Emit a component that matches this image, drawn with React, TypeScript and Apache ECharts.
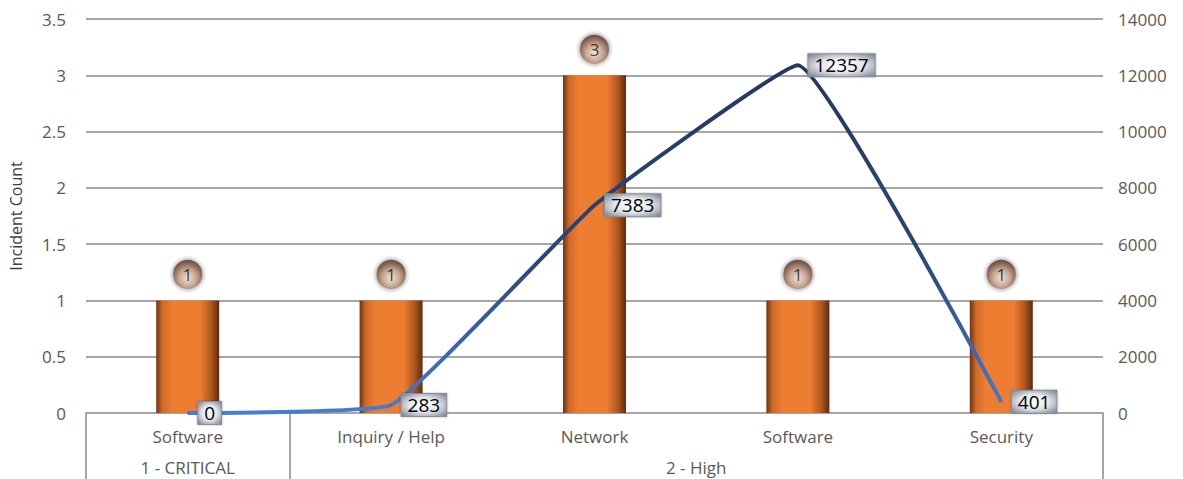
import React, { useEffect, useRef } from "react";
import * as echarts from "echarts";

const categories = ["Software", "Inquiry / Help", "Network", "Software", "Security"];
const groups = ["1 - CRITICAL", "2 - High"];
const groupSpans = [1, 4];
const incidentCounts = [1, 1, 3, 1, 1];
const lineValues = [0, 283, 7383, 12357, 401];
const leftTicks = { min: 0, max: 3.5, interval: 0.5 };
const rightTicks = { min: 0, max: 14000, interval: 2000 };

const FONT = "'Open Sans', Lato, sans-serif";

export default function App() {
  const ref = useRef<HTMLDivElement>(null);
  useEffect(() => {
    document.body.style.margin = "0";
    if (!ref.current) return;
    const chart = echarts.init(ref.current, undefined, { renderer: "svg" });

    const boundaries: number[] = [0];
    const centers: number[] = [];
    let acc = 0;
    groupSpans.forEach((s) => {
      centers.push(acc + s / 2);
      acc += s;
      boundaries.push(acc);
    });

    const barGradient = new echarts.graphic.LinearGradient(0, 0, 1, 0, [
      { offset: 0, color: "#6E3410" },
      { offset: 0.1, color: "#D06A28" },
      { offset: 0.25, color: "#ED7D31" },
      { offset: 0.7, color: "#ED7D31" },
      { offset: 0.87, color: "#B0561E" },
      { offset: 1, color: "#5E2C0C" },
    ]);
    const bubbleGradient = new echarts.graphic.RadialGradient(0.5, 0.62, 0.55, [
      { offset: 0, color: "#F6E4D6" },
      { offset: 0.5, color: "#C59D84" },
      { offset: 0.85, color: "#7A543F" },
      { offset: 1, color: "#5A3A2A" },
    ]);
    const lineGradient = new echarts.graphic.LinearGradient(0, 0, 0, 1, [
      { offset: 0, color: "#24385F" },
      { offset: 0.55, color: "#2B4679" },
      { offset: 1, color: "#4A7BD0" },
    ]);
    const labelBg = new echarts.graphic.RadialGradient(0.5, 0.5, 0.75, [
      { offset: 0, color: "#FFFFFF" },
      { offset: 0.45, color: "#E2E5EA" },
      { offset: 1, color: "#6C7482" },
    ]);

    chart.setOption({
      animation: false,
      grid: { left: 83, right: 80, top: 19, bottom: 66 },
      xAxis: [
        {
          type: "category",
          data: categories,
          position: "bottom",
          axisLine: { show: true, lineStyle: { color: "#A6A6A6", width: 2 } },
          axisTick: { show: false },
          axisLabel: {
            color: "#595959",
            fontSize: 17,
            lineHeight: 18,
            fontFamily: FONT,
            margin: 14,
          },
          splitLine: { show: false },
        },
        {
          type: "value",
          min: 0,
          max: categories.length,
          position: "bottom",
          axisLine: { show: false },
          splitLine: { show: false },
          axisTick: {
            show: true,
            customValues: boundaries,
            length: 66,
            lineStyle: { color: "#A6A6A6", width: 2 },
          },
          axisLabel: {
            customValues: centers,
            formatter: (v: number) => {
              const i = centers.indexOf(v);
              return i >= 0 ? groups[i] : "";
            },
            color: "#595959",
            fontSize: 17,
            lineHeight: 18,
            fontFamily: FONT,
            margin: 45,
          },
        },
      ],
      yAxis: [
        {
          type: "value",
          ...leftTicks,
          name: "Incident Count",
          nameLocation: "middle",
          nameGap: 62,
          nameRotate: 90,
          nameTextStyle: { color: "#404040", fontSize: 16, fontFamily: FONT },
          axisLine: { show: false },
          axisTick: { show: false },
          axisLabel: { color: "#595959", fontSize: 17, fontFamily: FONT, margin: 20 },
          splitLine: { show: true, lineStyle: { color: "#A6A6A6", width: 2 } },
        },
        {
          type: "value",
          ...rightTicks,
          position: "right",
          axisLine: { show: false },
          axisTick: { show: false },
          axisLabel: {
            color: "#595959",
            fontSize: 17,
            fontFamily: FONT,
            margin: 15,
            formatter: (v: number) => String(v),
          },
          splitLine: { show: false },
        },
      ],
      series: [
        {
          type: "bar",
          data: incidentCounts,
          barWidth: 63,
          itemStyle: { color: barGradient },
          z: 2,
        },
        {
          type: "scatter",
          data: incidentCounts,
          symbol: "circle",
          symbolSize: 31,
          symbolOffset: [0, -26],
          itemStyle: {
            color: bubbleGradient,
            borderColor: "#D8D8D8",
            borderWidth: 2,
            shadowColor: "rgba(0,0,0,0.35)",
            shadowBlur: 3,
          },
          label: {
            show: true,
            position: "inside",
            color: "#111111",
            fontSize: 17,
            fontFamily: FONT,
          },
          z: 3,
        },
        {
          type: "line",
          yAxisIndex: 1,
          data: lineValues,
          smooth: 0.1,
          symbol: "circle",
          symbolSize: 1,
          lineStyle: { color: lineGradient, width: 4 },
          itemStyle: { color: "#2B4679" },
          label: {
            show: true,
            position: "right",
            distance: 10,
            color: "#000000",
            fontSize: 19,
            lineHeight: 21,
            fontFamily: FONT,
            backgroundColor: labelBg,
            borderColor: "#8A909A",
            borderWidth: 1,
            padding: [1, 6, 0, 6],
            shadowColor: "rgba(0,0,0,0.3)",
            shadowBlur: 2,
          },
          z: 4,
        },
      ],
    });
    return () => chart.dispose();
  }, []);
  return <div ref={ref} style={{ width: 1183, height: 479 }} />;
}
